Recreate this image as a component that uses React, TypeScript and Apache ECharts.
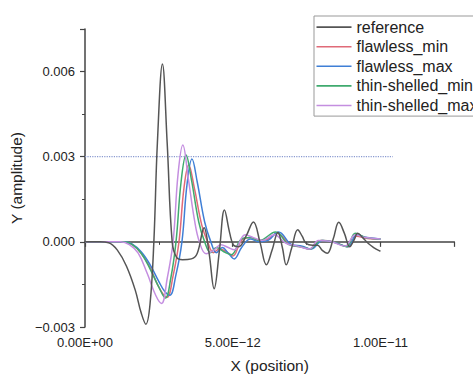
import React, { useEffect, useRef } from "react";
import * as echarts from "echarts";

// x in units of 1e-12 (position), y in units of 1e-3 (amplitude)
const seriesNames = ["reference", "flawless_min", "flawless_max", "thin-shelled_min", "thin-shelled_max"];
const seriesColors = ["#555555", "#e06a78", "#3f7fd6", "#3faa6e", "#c48ee0"];

const referenceX = [0, 0.5, 0.8, 1.1, 1.4, 1.7, 1.9, 2.06, 2.2, 2.33, 2.45, 2.62, 2.78, 2.95, 3.1, 3.3, 3.6, 3.8, 4.03, 4.2, 4.37, 4.55, 4.72, 4.9, 5.03, 5.2, 5.45, 5.7, 5.92, 6.14, 6.33, 6.53, 6.68, 6.81, 7.0, 7.2, 7.35, 7.48, 7.7, 7.87, 8.03, 8.2, 8.4, 8.59, 8.78, 8.96, 9.1, 9.23, 9.4, 9.59, 9.8, 9.92, 10.0];
const referenceY = [0, 0, -0.03, -0.3, -0.85, -1.7, -2.5, -2.9, -2.2, 0, 3.5, 6.27, 3.5, 0, -0.55, -0.63, -0.6, -0.4, 0.5, -0.4, -1.65, -0.3, 1.12, 0.3, -0.12, -0.17, 0.2, 0.7, 0.0, -0.81, -0.3, 0.33, -0.2, -0.81, -0.2, 0.43, 0.2, -0.05, -0.12, -0.12, -0.3, -0.4, 0.1, 0.69, 0.3, -0.17, 0.05, 0.3, 0.15, -0.06, -0.22, -0.29, -0.33];

const flawlessMinX = [0, 1.3, 1.6, 1.9, 2.2, 2.45, 2.65, 2.78, 2.98, 3.18, 3.35, 3.51, 3.7, 3.95, 4.15, 4.35, 4.55, 4.8, 5.0, 5.3, 5.6, 5.9, 6.2, 6.5, 6.95, 7.3, 7.6, 8.0, 8.4, 8.9, 9.2, 9.55, 10.0];
const flawlessMinY = [0, 0, -0.1, -0.4, -0.9, -1.5, -1.85, -1.95, -1.2, 0, 1.9, 2.71, 1.9, 0.6, 0, -0.38, -0.25, -0.35, -0.5, 0.05, 0.15, 0.05, 0.1, 0.3, -0.1, -0.17, -0.25, 0.05, 0.0, -0.17, 0.2, 0.12, 0.1];

const flawlessMaxX = [0, 1.3, 1.6, 1.9, 2.2, 2.5, 2.7, 2.87, 3.07, 3.28, 3.45, 3.62, 3.8, 4.05, 4.26, 4.45, 4.65, 4.85, 5.05, 5.3, 5.6, 5.9, 6.2, 6.55, 7.0, 7.35, 7.65, 8.05, 8.45, 8.9, 9.2, 9.55, 10.0];
const flawlessMaxY = [0, 0, -0.08, -0.35, -0.8, -1.4, -1.75, -1.88, -1.2, 0, 2.0, 2.92, 2.1, 0.7, 0, -0.38, -0.2, -0.4, -0.6, -0.2, 0.1, 0.0, 0.05, 0.35, -0.1, -0.15, -0.25, 0.05, -0.02, -0.17, 0.25, 0.15, 0.1];

const thinMinX = [0, 1.3, 1.6, 1.9, 2.2, 2.5, 2.72, 2.9, 3.08, 3.25, 3.42, 3.6, 3.85, 4.05, 4.25, 4.45, 4.7, 4.95, 5.3, 5.6, 5.9, 6.45, 6.9, 7.3, 7.6, 8.0, 8.4, 8.85, 9.15, 9.5, 10.0];
const thinMinY = [0, 0, -0.1, -0.4, -0.95, -1.6, -1.98, -1.3, 0, 2.1, 3.06, 2.2, 0.7, 0, -0.38, -0.2, -0.35, -0.45, 0.1, 0.15, 0.05, 0.35, -0.1, -0.17, -0.25, 0.05, 0.0, -0.17, 0.3, 0.15, 0.1];

const thinMaxX = [0, 1.2, 1.5, 1.8, 2.1, 2.4, 2.59, 2.78, 2.98, 3.15, 3.31, 3.5, 3.7, 3.87, 4.1, 4.35, 4.6, 4.85, 5.05, 5.42, 5.7, 6.0, 6.4, 6.8, 7.2, 7.6, 7.9, 8.3, 8.8, 9.15, 9.5, 10.0];
const thinMaxY = [0, 0, -0.1, -0.4, -1.1, -1.9, -2.17, -1.3, 0, 2.4, 3.41, 2.2, 0.8, 0, -0.42, -0.3, -0.1, -0.2, -0.28, 0.25, 0.15, 0.05, 0.25, -0.05, -0.15, -0.25, 0.05, 0.02, -0.15, 0.25, 0.15, 0.1];

const thresholdX = [0, 10.42];
const thresholdY = [3, 3];

const xTicks = { min: 0, max: 12.5, interval: 5 };
const yTicks = { min: -3, max: 7.5, interval: 3 };

const zip = (xs: number[], ys: number[]) => xs.map((x, i) => [x, ys[i]]);

const formatX = (v: number) => {
  if (v === 0) return "0.00E+00";
  return (v * 1e-12).toExponential(2).replace("e", "E").replace("-", "\u2212");
};
const formatY = (v: number) => (v / 1000).toFixed(3).replace("-", "\u2212");

export default function App() {
  const ref = useRef<HTMLDivElement>(null);
  useEffect(() => {
    if (!ref.current) return;
    const chart = echarts.init(ref.current, undefined, { renderer: "svg" });
    const datasets = [
      zip(referenceX, referenceY),
      zip(flawlessMinX, flawlessMinY),
      zip(flawlessMaxX, flawlessMaxY),
      zip(thinMinX, thinMinY),
      zip(thinMaxX, thinMaxY),
    ];
    const font = "'Liberation Sans', Arial, sans-serif";
    chart.setOption({
      animation: false,
      backgroundColor: "#ffffff",
      textStyle: { fontFamily: font },
      grid: { left: 79, top: 29, right: 18.7, bottom: 46.3, containLabel: false },
      legend: {
        data: seriesNames,
        orient: "vertical",
        left: 314,
        top: 16,
        padding: [3, 0, 2.5, 2.5],
        icon: "rect",
        itemWidth: 35,
        itemHeight: 1.6,
        itemGap: 3.4,
        borderColor: "#999999",
        borderWidth: 1,
        backgroundColor: "#ffffff",
        textStyle: { fontSize: 16, lineHeight: 16.2, color: "#222222", fontFamily: font },
      },
      xAxis: {
        type: "value",
        min: xTicks.min,
        max: xTicks.max,
        interval: xTicks.interval,
        name: "X (position)",
        nameLocation: "middle",
        nameGap: 30,
        nameTextStyle: { fontSize: 15.5, color: "#222222", fontFamily: font },
        axisLine: { show: true, lineStyle: { color: "#444444", width: 1.5 } },
        axisTick: { show: true, inside: false, length: 5, lineStyle: { color: "#444444", width: 1.2 } },
        minorTick: { show: true, splitNumber: 2, length: 3, lineStyle: { color: "#444444", width: 1 } },
        axisLabel: { fontSize: 13, color: "#222222", margin: 9, formatter: formatX, showMaxLabel: false },
        splitLine: { show: false },
      },
      yAxis: {
        type: "value",
        min: yTicks.min,
        max: yTicks.max,
        interval: yTicks.interval,
        name: "Y (amplitude)",
        nameLocation: "middle",
        nameGap: 54,
        nameTextStyle: { fontSize: 15.5, color: "#222222", fontFamily: font },
        axisLine: { show: true, lineStyle: { color: "#444444", width: 1.5 } },
        axisTick: { show: true, inside: false, length: 5, lineStyle: { color: "#444444", width: 1.2 } },
        minorTick: { show: true, splitNumber: 2, length: 3, lineStyle: { color: "#444444", width: 1 } },
        axisLabel: { fontSize: 13, color: "#222222", margin: 10, formatter: formatY, showMaxLabel: false },
        splitLine: { show: false },
      },
      series: [
        {
          name: "threshold",
          type: "line",
          data: zip(thresholdX, thresholdY),
          symbol: "none",
          lineStyle: { color: "#8a9ad0", width: 1.2, type: "dotted" },
          silent: true,
          z: 1,
        },
        ...seriesNames.map((name, i) => ({
          name,
          type: "line",
          data: datasets[i],
          symbol: "none",
          smooth: 0.4,
          color: seriesColors[i],
          lineStyle: { color: seriesColors[i], width: 1.5 },
          z: i === 0 ? 3 : 2,
        })),
      ],
    });
    return () => chart.dispose();
  }, []);
  return <div ref={ref} style={{ width: 473, height: 378, position: "absolute", left: 0, top: 0 }} />;
}
